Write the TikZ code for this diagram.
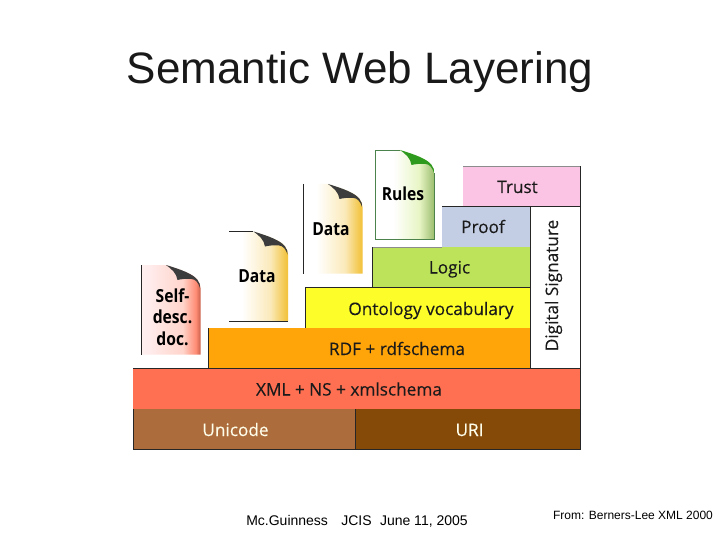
\documentclass[tikz,border=0pt]{standalone}
\usepackage{fontspec}
\setmainfont{Liberation Sans}
\newfontfamily\tah[FakeBold=0.25]{Open Sans}
\newfontfamily\tahb[FakeStretch=0.87]{Open Sans}
\definecolor{ctrust}{HTML}{FBC4E4}
\definecolor{cproof}{HTML}{C3CDE3}
\definecolor{clogic}{HTML}{BCE35A}
\definecolor{cont}{HTML}{FDFD2A}
\definecolor{crdf}{HTML}{FFA50A}
\definecolor{cxml}{HTML}{FF7052}
\definecolor{cuni}{HTML}{AD6C3C}
\definecolor{curi}{HTML}{864A08}
\definecolor{ctxt}{HTML}{1A1A1A}
\definecolor{cfold}{HTML}{3C3C3C}
\definecolor{cgreen}{HTML}{2E9A1E}
\definecolor{cochre}{HTML}{F2C23A}
\definecolor{cbrick}{HTML}{C9604A}
\definecolor{csage}{HTML}{9CBF6A}
\pgfdeclarehorizontalshading{docyellow}{100bp}{color(0bp)=(white); color(36bp)=(white); color(60bp)=(cochre!35!white); color(72bp)=(cochre!90!white); color(75bp)=(cochre); color(100bp)=(cochre)}
\pgfdeclarehorizontalshading{docred}{100bp}{color(0bp)=(white); color(30bp)=(white!93!red); color(60bp)=(cxml!30!white); color(71bp)=(cxml!80!white); color(75bp)=(cbrick); color(100bp)=(cbrick)}
\pgfdeclarehorizontalshading{docgreen}{100bp}{color(0bp)=(white); color(40bp)=(white); color(62bp)=(clogic!35!white); color(72bp)=(csage!85!white); color(75bp)=(csage); color(100bp)=(csage)}
\tikzset{
  x=1pt,y=-1pt,
  blocklabel/.style={inner sep=0pt,anchor=base,font=\tah\fontsize{17.2}{20}\selectfont,text=ctxt},
  doclabel/.style={inner sep=0pt,anchor=base,align=center,font=\tahb\bfseries\fontsize{18}{21.7}\selectfont,text=black},
  edge/.style={line width=0.7pt,draw=black!85},
}
% x1 y1 x2 y2 colour
\newcommand{\blk}[5]{\fill[#5] (#1,#2) rectangle (#3,#4);}
% x y shading foldcolour
\newcommand{\docshape}[4]{%
  \begin{scope}[shift={(#1,#2)}]
    \shade[shading=#3] (0,0) -- (24.5,0) .. controls (38,4) and (52,9) .. (56,15) .. controls (58,18) and (59,20) .. (59,23) -- (59,89.5) -- (0,89.5) -- cycle;
    \fill[#4] (24.5,0) .. controls (38,4) and (52,9) .. (56,15) .. controls (58,18) and (59,20) .. (58.5,23) .. controls (57,18) and (54,14) .. (50,14) .. controls (45,13.5) and (40,14) .. (36,15) .. controls (35,8) and (30,4) .. (24.5,0) -- cycle;
  \end{scope}}
\begin{document}
\begin{tikzpicture}
\useasboundingbox (0,0) rectangle (720,540);
\fill[white] (0,0) rectangle (720,540);
% blocks
\blk{463}{166.5}{580}{206}{ctrust}
\blk{442}{206}{530}{247}{cproof}
\blk{372.5}{247}{530}{287}{clogic}
\blk{305}{287}{530}{328}{cont}
\blk{208.5}{328}{530}{368}{crdf}
\blk{133}{368}{580}{409}{cxml}
\blk{133}{409}{355}{449}{cuni}
\blk{355}{409}{580}{449}{curi}
% edges
\draw[line width=0.5pt,draw=black!45] (463,166.5) -- (580,166.5);
\draw[edge] (580,166.5) -- (580,449) -- (133,449) -- (133,409);
\draw[edge] (442,206) -- (580,206);
\draw[edge] (530,206) -- (530,368);
\draw[edge] (372.5,287) -- (530,287);
\draw[edge] (372.5,247) -- (372.5,287);
\draw[edge] (305,287) -- (305,328);
\draw[edge] (305,287) -- (372.5,287);
\draw[line width=0.5pt,draw=black!45] (372.5,247) -- (442,247);
\draw[edge] (208.5,328) -- (208.5,368);
\draw[edge] (133,368) -- (580,368);
\draw[edge] (355,409) -- (355,449);
% block labels
\node[blocklabel] (trust) at (517.5,193) {Trust};
\node[blocklabel] (proof) at (483,233) {Proof};
\node[blocklabel] (logic) at (449.5,273.5) {Logic};
\node[blocklabel] (onto) at (431,315) {Ontology vocabulary};
\node[blocklabel] (rdf) at (397,355) {RDF + rdfschema};
\node[blocklabel] (xml) at (349,395.5) {XML + NS + xmlschema};
\node[blocklabel,text=white!92!yellow] (uni) at (235.5,436) {Unicode};
\node[blocklabel,text=white!92!yellow] (uri) at (469.5,436) {URI};
\node[blocklabel,rotate=90] (sig) at (558,285.5) {Digital Signature};
% documents
\docshape{141.5}{265}{docred}{cfold}
\docshape{229}{231.5}{docyellow}{cfold}
\docshape{303.5}{184}{docyellow}{cfold}
\docshape{375.5}{150}{docgreen}{cgreen}
\draw[edge] (141.5,265) -- (141.5,354.5);
\draw[edge] (229,231.5) -- (253,231.5);
\draw[edge] (229,321) -- (288,321);
\draw[edge] (303.5,184) -- (303.5,273.5);
\draw[line width=0.6pt,draw=green!30!black!70] (400,150) -- (375.5,150) -- (375.5,239.5) -- (434,239.5) -- (434,173);
\node[doclabel,anchor=center] (self) at (172.5,317) {Self-\\desc.\\doc.};
\node[doclabel] (data1) at (257,282.7) {Data};
\node[doclabel] (data2) at (331,235.7) {Data};
\node[doclabel] (rules) at (403,201) {Rules};
% texts
\node[inner sep=0pt,text=black!90,font=\fontsize{44}{50}\selectfont] (title) at (360,72) {Semantic Web Layering};
\node[inner sep=0pt,font=\fontsize{14}{16}\selectfont] (foot) at (357,521) {Mc.Guinness\hspace{0.95em}JCIS\hspace{0.6em}June 11, 2005};
\node[inner sep=0pt,font=\fontsize{12}{14}\selectfont] (from) at (633,515) {From: Berners-Lee XML 2000};
\end{tikzpicture}
\end{document}
